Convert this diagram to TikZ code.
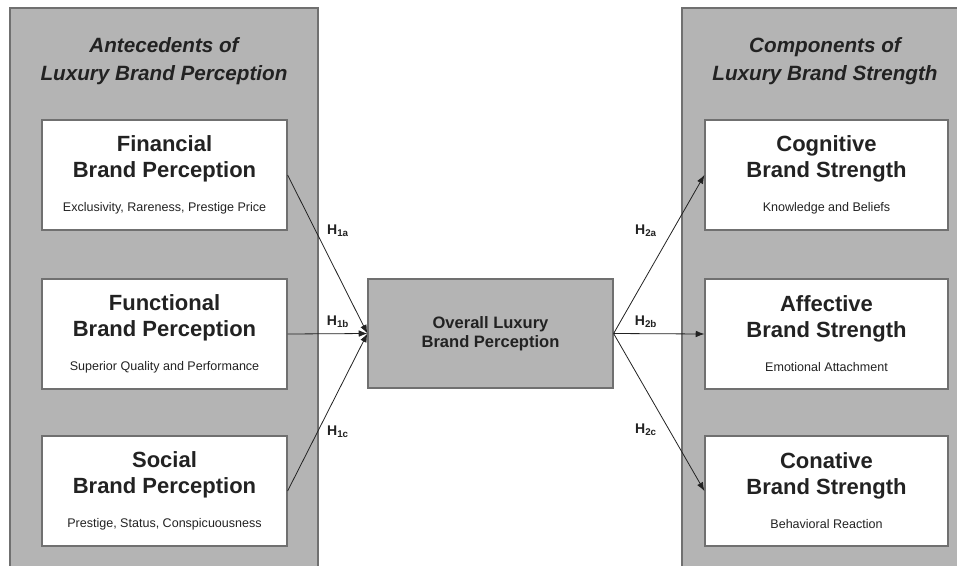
\documentclass[tikz,border=0pt]{standalone}
\usepackage{fontspec}
\setmainfont{Liberation Sans}
\usetikzlibrary{arrows.meta}
\definecolor{panelgray}{HTML}{B4B4B4}
\definecolor{edgegray}{HTML}{707070}
\definecolor{inkgray}{HTML}{222222}
\newcommand{\subfont}{\mdseries\fontsize{9.4}{11}\selectfont}
\tikzset{
  panel/.style={draw=edgegray, fill=panelgray, line width=0.9pt, inner sep=0pt},
  factor/.style={draw=edgegray, fill=white, line width=0.9pt, inner sep=0pt,
    minimum height=82.5pt, align=center, text=inkgray,
    font=\bfseries\fontsize{16.5}{19.5}\selectfont},
  paneltitle/.style={align=center, text=inkgray,
    font=\bfseries\itshape\fontsize{15.5}{21}\selectfont},
  hlab/.style={text=inkgray, inner sep=0pt, font=\bfseries\fontsize{10.5}{12}\selectfont},
  link/.style={draw=inkgray, line width=0.6pt, -{Latex[length=6.5pt,width=5pt]}}
}
\begin{document}
\begin{tikzpicture}[x=0.75pt,y=-0.75pt]
  \useasboundingbox (0,0) rectangle (957,565);
  \node[panel, minimum width=231pt, minimum height=420pt] (antec) at (164,288) {};
  \node[panel, minimum width=210pt, minimum height=420pt] (comp) at (822,288) {};
  \node[paneltitle] (antec-title) at (164,61) {Antecedents of\\Luxury Brand Perception};
  \node[paneltitle] (comp-title) at (825,61) {Components of\\Luxury Brand Strength};
  \node[factor, minimum width=183.75pt] (fin) at (164.5,175) {Financial\\Brand Perception\\[6pt]{\subfont Exclusivity, Rareness, Prestige Price}};
  \node[factor, minimum width=183.75pt] (fun) at (164.5,334) {Functional\\Brand Perception\\[6pt]{\subfont Superior Quality and Performance}};
  \node[factor, minimum width=183.75pt] (soc) at (164.5,491) {Social\\Brand Perception\\[6pt]{\subfont Prestige, Status, Conspicuousness}};
  \node[factor, minimum width=182.25pt] (cog) at (826.5,175) {Cognitive\\Brand Strength\\[6pt]{\subfont Knowledge and Beliefs}};
  \node[factor, minimum width=182.25pt] (aff) at (826.5,334) {Affective\\Brand Strength\\[6pt]{\subfont Emotional Attachment}};
  \node[factor, minimum width=182.25pt] (con) at (826.5,491) {Conative\\Brand Strength\\[6pt]{\subfont Behavioral Reaction}};
  \node[factor, fill=panelgray, minimum width=183.75pt, minimum height=81.75pt,
    font=\bfseries\fontsize{12.4}{14.5}\selectfont] (cen) at (490.5,333.5) {Overall Luxury\\Brand Perception};
  \draw[link] (fin.east) -- (cen.west);
  \draw[link] (fun.east) -- (cen.west);
  \draw[link] (soc.east) -- (cen.west);
  \draw[link] (cen.east) -- (cog.west);
  \draw[link] (cen.east) -- (aff.west);
  \draw[link] (cen.east) -- (con.west);
  \node[hlab] (h1a) at (338,231) {H\textsubscript{1a}};
  \node[hlab] (h1b) at (338,322) {H\textsubscript{1b}};
  \node[hlab] (h1c) at (338,432) {H\textsubscript{1c}};
  \node[hlab] (h2a) at (646,231) {H\textsubscript{2a}};
  \node[hlab] (h2b) at (646,322) {H\textsubscript{2b}};
  \node[hlab] (h2c) at (646,430) {H\textsubscript{2c}};
\end{tikzpicture}
\end{document}
